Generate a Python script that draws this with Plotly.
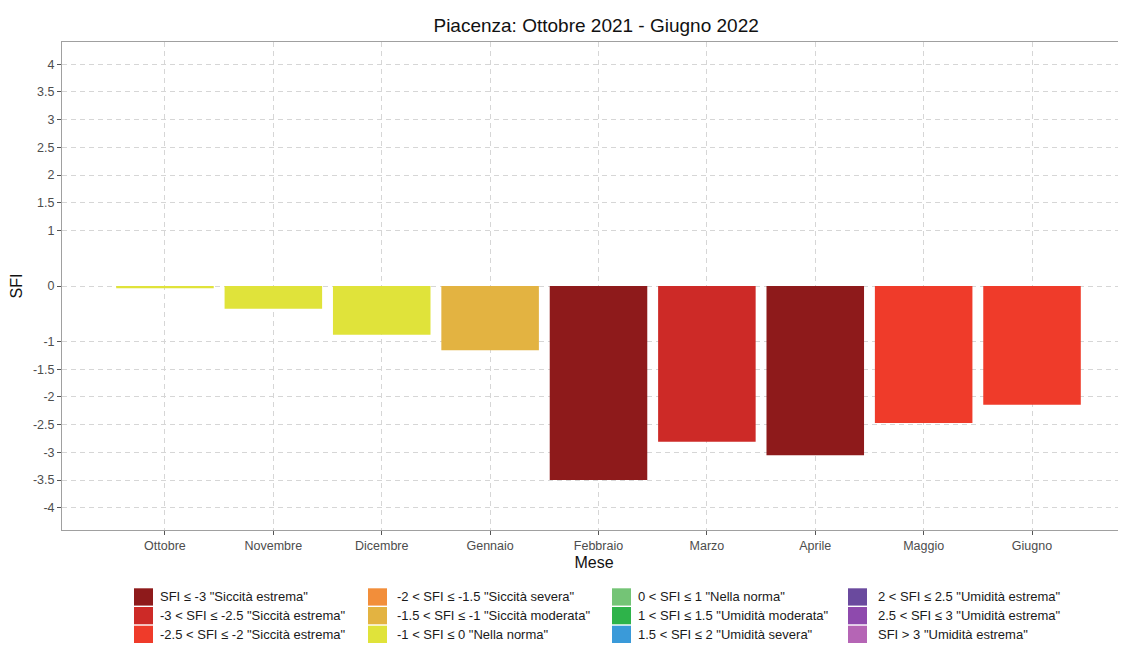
import plotly.graph_objects as go

# Dati SFI Piacenza
mesi = ['Ottobre', 'Novembre', 'Dicembre', 'Gennaio', 'Febbraio',
        'Marzo', 'Aprile', 'Maggio', 'Giugno']
sfi = [-0.04, -0.41, -0.88, -1.16, -3.50, -2.81, -3.05, -2.47, -2.14]

# Classi della legenda (soglia superiore, etichetta, colore)
classi_soglie = [-3, -2.5, -2, -1.5, -1, 0, 1, 1.5, 2, 2.5, 3, 99]
classi_label = [
    'SFI ≤ -3 "Siccità estrema"',
    '-3 < SFI ≤ -2.5 "Siccità estrema"',
    '-2.5 < SFI ≤ -2 "Siccità estrema"',
    '-2 < SFI ≤ -1.5 "Siccità severa"',
    '-1.5 < SFI ≤ -1 "Siccità moderata"',
    '-1 < SFI ≤ 0 "Nella norma"',
    '0 < SFI ≤ 1 "Nella norma"',
    '1 < SFI ≤ 1.5 "Umidità moderata"',
    '1.5 < SFI ≤ 2 "Umidità severa"',
    '2 < SFI ≤ 2.5 "Umidità estrema"',
    '2.5 < SFI ≤ 3 "Umidità estrema"',
    'SFI > 3 "Umidità estrema"',
]
classi_colori = ['#8E1A1B', '#CD2A27', '#EF3B2A', '#F28E3A', '#E3B341', '#E0E33A',
                 '#74C476', '#2EB34A', '#3A9AD9', '#6A4A9E', '#8E4AAD', '#B565B5']


def colore(v):
    for s, c in zip(classi_soglie, classi_colori):
        if v <= s:
            return c
    return classi_colori[-1]


fig = go.Figure()
fig.add_trace(go.Bar(x=mesi, y=sfi, marker_color=[colore(v) for v in sfi],
                     marker_line_width=0, width=0.9, showlegend=False))

# area del grafico in pixel (la pagina html ha 8px di margine)
W, H = 1118, 637
ML, MT, MB = 54, 34, 115
PW, PH = W - ML, H - MT - MB


def px_x(p):  # pixel pagina -> coordinate paper
    return (p - 8 - ML) / PW


def px_y(p):
    return (H - MB + 8 - p) / PH


# legenda stile ggplot: 4 colonne da 3 righe
col_key = [134, 368, 612, 848]
col_txt = [158, 395, 636, 876]
riga0, passo, key_w, key_h = 588.3, 18.7, 19, 17.3
shapes, annots = [], []
for i, (lab, col) in enumerate(zip(classi_label, classi_colori)):
    c, r = i // 3, i % 3
    top = riga0 + r * passo
    shapes.append(dict(type='rect', xref='paper', yref='paper',
                       x0=px_x(col_key[c]), x1=px_x(col_key[c] + key_w),
                       y0=px_y(top), y1=px_y(top + key_h),
                       fillcolor=col, line=dict(width=0)))
    annots.append(dict(text=lab, xref='paper', yref='paper',
                       x=px_x(col_txt[c]), y=px_y(top + key_h / 2),
                       xanchor='left', yanchor='middle', showarrow=False,
                       font=dict(size=13, color='#1a1a1a')))

fig.update_layout(
    width=W, height=H,
    margin=dict(l=ML, r=0, t=MT, b=MB),
    plot_bgcolor='white', paper_bgcolor='white',
    font=dict(family='Liberation Sans', color='#222222'),
    title=dict(text='Piacenza: Ottobre 2021 - Giugno 2022', xref='paper', x=0.502,
               xanchor='center', y=0.973, yanchor='middle',
               font=dict(size=19, color='#111111')),
    showlegend=False,
    shapes=shapes, annotations=annots,
)
fig.update_xaxes(
    title=dict(text='Mese', font=dict(size=16, color='#111111'), standoff=4),
    range=[-0.95, 8.867], showgrid=True, gridcolor='#d6d6d6', griddash='5px,4px',
    showline=True, linecolor='#a0a0a0', mirror=True,
    ticks='outside', ticklen=4, tickcolor='#555555',
    tickfont=dict(size=12.5, color='#4d4d4d'),
)
fig.update_yaxes(
    title=dict(text='SFI', font=dict(size=16, color='#111111'), standoff=8),
    range=[-4.4, 4.4],
    tickvals=[-4, -3.5, -3, -2.5, -2, -1.5, -1, 0, 1, 1.5, 2, 2.5, 3, 3.5, 4],
    ticktext=['-4', '-3.5', '-3', '-2.5', '-2', '-1.5', '-1', '0', '1', '1.5', '2', '2.5', '3', '3.5', '4'],
    showgrid=True, gridcolor='#d6d6d6', griddash='5px,4px', zeroline=False,
    showline=True, linecolor='#a0a0a0', mirror=False,
    ticks='outside', ticklen=4, tickcolor='#555555',
    tickfont=dict(size=12.5, color='#4d4d4d'),
)

fig.write_html("out.html")
